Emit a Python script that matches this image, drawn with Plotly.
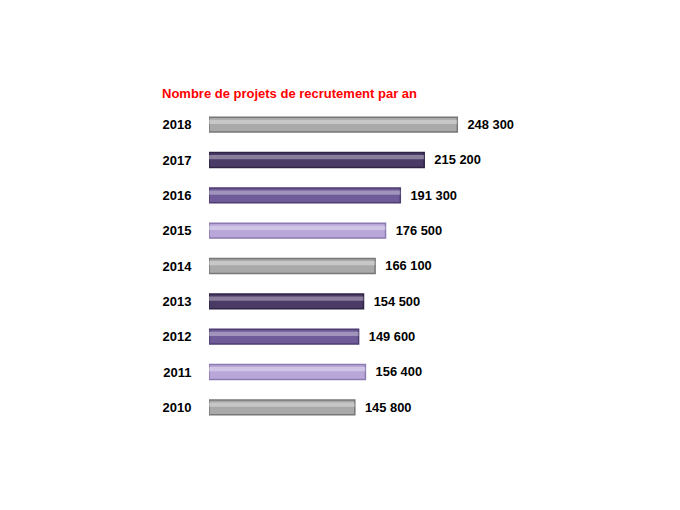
import plotly.graph_objects as go

years = ["2010", "2011", "2012", "2013", "2014", "2015", "2016", "2017", "2018"]
values = [145800, 156400, 149600, 154500, 166100, 176500, 191300, 215200, 248300]
labels = ["145 800", "156 400", "149 600", "154 500", "166 100",
          "176 500", "191 300", "215 200", "248 300"]
colors = ["#a9a9a9", "#b8a7d8", "#6f5b98", "#4a3a66", "#a9a9a9",
          "#b8a7d8", "#6f5b98", "#4a3a66", "#a9a9a9"]
edges = ["#777777", "#8c7bb0", "#4d3d70", "#2f2444", "#777777",
         "#8c7bb0", "#4d3d70", "#2f2444", "#777777"]

fig = go.Figure()
fig.add_trace(go.Bar(
    x=values, y=years, orientation="h", width=0.42,
    marker=dict(color=colors, line=dict(color=edges, width=1.5)),
    text=["  <b>" + t + "</b>" for t in labels], textposition="outside",
    cliponaxis=False,
    textfont=dict(family="Liberation Sans", size=13, color="black"),
))
# reflet clair sur le haut des barres
fig.add_trace(go.Bar(
    x=values, y=years, orientation="h", width=0.12, offset=0.02,
    marker=dict(color="rgba(255,255,255,0.35)", line=dict(width=0)),
    hoverinfo="skip",
))

fig.update_layout(
    width=680, height=510,
    margin=dict(l=201, r=59, t=99, b=93, autoexpand=False),
    barmode="overlay", showlegend=False,
    plot_bgcolor="white", paper_bgcolor="white",
    title=dict(text="<b>Nombre de projets de recrutement par an</b>",
               x=154 / 680, xanchor="left", y=1 - 85 / 510, yanchor="middle",
               font=dict(family="Liberation Sans", size=13, color="#ff0000")),
    xaxis=dict(range=[0, 420000], visible=False),
    yaxis=dict(showline=False, showgrid=False, ticks="outside", ticklen=14,
               tickcolor="white", automargin=False,
               tickfont=dict(family="Liberation Sans", size=13, color="black"),
               tickprefix="<b>", ticksuffix="</b>"),
)

fig.write_html("out.html")
